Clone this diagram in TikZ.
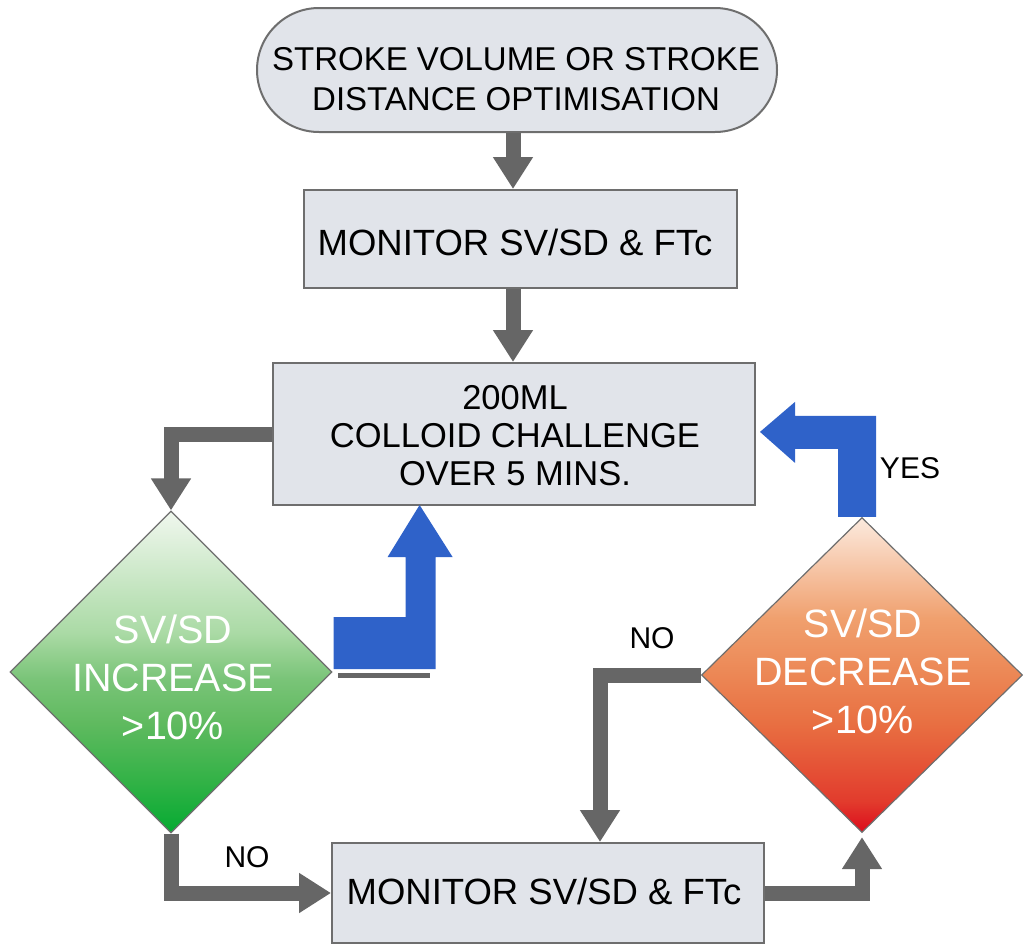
\documentclass[tikz,border=0pt]{standalone}
\usepackage{fontspec}
\setmainfont{Liberation Sans}
\usetikzlibrary{shapes.geometric,arrows.meta}
\definecolor{boxfill}{RGB}{225,228,234}
\definecolor{boxline}{RGB}{110,110,110}
\definecolor{arrgray}{RGB}{102,102,102}
\definecolor{arrblue}{RGB}{47,98,201}
\pgfdeclareverticalshading{incshade}{100bp}{%
  rgb(0bp)=(0.02,0.667,0.196);
  rgb(25bp)=(0.02,0.667,0.196);
  rgb(33bp)=(0.196,0.698,0.275);
  rgb(42bp)=(0.373,0.729,0.373);
  rgb(49bp)=(0.478,0.769,0.471);
  rgb(56bp)=(0.667,0.855,0.647);
  rgb(75bp)=(0.941,0.969,0.933);
  rgb(100bp)=(0.941,0.969,0.933)}
\pgfdeclareverticalshading{decshade}{100bp}{%
  rgb(0bp)=(0.863,0.047,0.110);
  rgb(25bp)=(0.863,0.047,0.110);
  rgb(30bp)=(0.886,0.235,0.176);
  rgb(42bp)=(0.910,0.431,0.255);
  rgb(50bp)=(0.925,0.529,0.333);
  rgb(59bp)=(0.941,0.627,0.431);
  rgb(75bp)=(0.988,0.918,0.871);
  rgb(100bp)=(0.988,0.918,0.871)}
\begin{document}
\begin{tikzpicture}[x=1pt,y=-1pt,
  box/.style={draw=boxline, line width=2pt, fill=boxfill, inner sep=0pt},
  boxtext/.style={align=center, inner sep=0pt, font=\fontsize{36.5}{40}\selectfont},
  dia/.style={diamond, draw=boxline, line width=1.2pt, inner sep=0pt, aspect=1},
  diatext/.style={align=center, inner sep=0pt, text=white, font=\fontsize{39.5}{48}\selectfont},
  lbl/.style={inner sep=0pt, font=\fontsize{30}{36}\selectfont},
  garrow/.style={draw=arrgray, line width=15pt, line join=miter, -{Triangle[width=38pt,length=32pt]}},
  bfill/.style={fill=arrblue}
]
\useasboundingbox (0,0) rectangle (1028,951);

% shapes
\node[box, minimum width=520pt, minimum height=124pt, rounded corners=62pt] (term) at (517,70) {};
\node[boxtext, font=\fontsize{33}{40}\selectfont] (termT) at (516,79) {STROKE VOLUME OR STROKE\\DISTANCE OPTIMISATION};
\node[box, minimum width=433pt, minimum height=98pt] (mon1) at (520,239) {};
\node[boxtext] (mon1T) at (515,242) {MONITOR SV/SD \& FTc};
\node[box, minimum width=482pt, minimum height=142pt] (chal) at (514,434) {};
\node[boxtext, font=\fontsize{34.5}{38}\selectfont] (chalT) at (515,436) {200ML\\COLLOID CHALLENGE\\OVER 5 MINS.};
\node[dia, minimum width=322pt, minimum height=322pt, shading=incshade] (inc) at (171,672) {};
\node[diatext] (incT) at (173,677) {SV/SD\\INCREASE\\>10\%};
\node[dia, minimum width=321pt, minimum height=315pt, shading=decshade] (dec) at (862,675) {};
\node[diatext] (decT) at (863,671) {SV/SD\\DECREASE\\>10\%};
\node[box, minimum width=432pt, minimum height=100pt] (mon2) at (548,893) {};
\node[boxtext] (mon2T) at (544,891) {MONITOR SV/SD \& FTc};

% labels
\node[lbl] (yes) at (910,468) {YES};
\node[lbl] (noR) at (652,638) {NO};
\node[lbl] (noL) at (247,857) {NO};

% grey connectors
\draw[garrow] (term.south -| 513,0) -- (mon1.north -| 513,0);
\draw[garrow] (mon1.south -| 513,0) -- (chal.north -| 513,0);
\draw[garrow] (chal.west) -| (inc.north);
\draw[garrow] (inc.south) |- (mon2.west);
\draw[garrow, shorten >=4pt] (mon2.east) -| (dec.south);
\draw[garrow] (dec.west) -| ([xshift=52pt]mon2.north);

% blue connectors
\fill[bfill] (inc.east) ++(1,-55) -- ++(72,0) -- ++(0,-60) -- ++(-18,0) -- ++(32,-52)
  -- ++(33,52) -- ++(-17,0) -- ++(0,112) -- ++(-102,0) -- cycle;
\fill[arrgray] ([shift={(5,1)}]inc.east) rectangle ([shift={(97,6)}]inc.east);
\fill[bfill] (dec.north) ++(-24,0) -- ++(38,0) -- ++(0,-101) -- ++(-81,0) -- ++(0,-14)
  -- ++(-35,30) -- ++(35,31) -- ++(0,-14) -- ++(43,0) -- cycle;
\end{tikzpicture}
\end{document}
